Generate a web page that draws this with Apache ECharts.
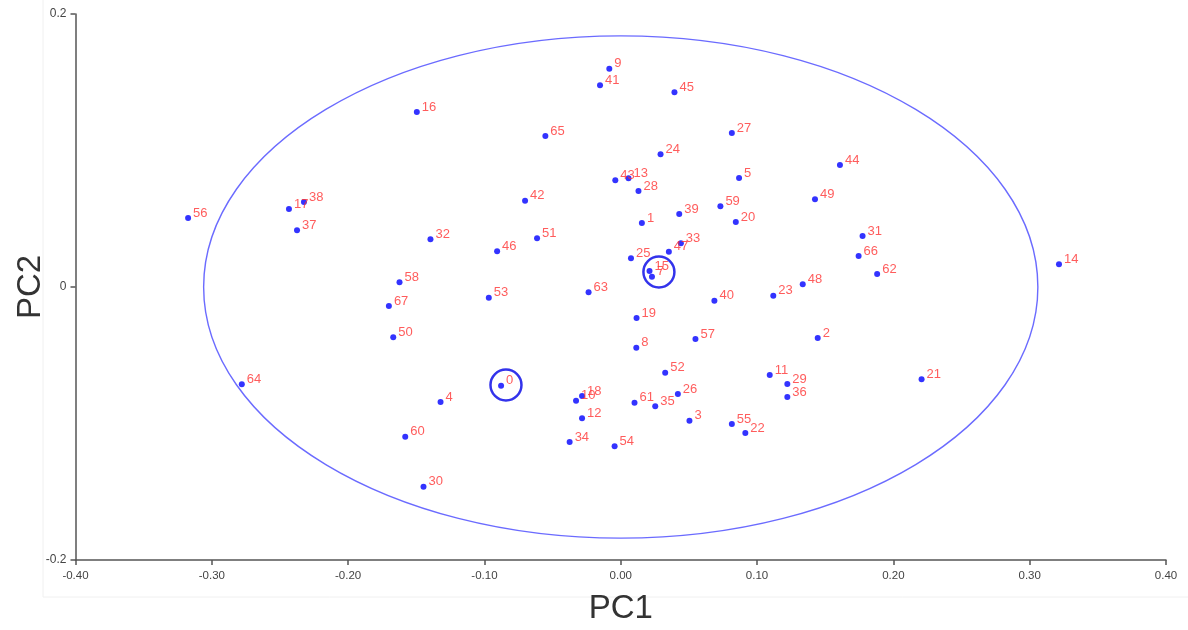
<!DOCTYPE html>
<html>
<head>
<meta charset="utf-8">
<script src="https://cdn.jsdelivr.net/npm/echarts@6/dist/echarts.min.js"></script>
<style>
html,body{margin:0;padding:0;background:#fff;}
#chart{width:1188px;height:630px;}
</style>
</head>
<body>
<div id="chart"></div>
<script>
// Sample labels, PC1 and PC2 scores
const ids = [0,1,2,3,4,5,7,8,9,10,11,12,13,14,15,16,17,18,19,20,21,22,23,24,25,26,27,28,29,30,31,32,33,34,35,36,37,38,39,40,41,42,43,44,45,46,47,48,49,50,51,52,53,54,55,56,57,58,59,60,61,62,63,64,65,66,67];
const pc1 = [-0.0878,0.0155,0.1445,0.0504,-0.1322,0.0868,0.0229,0.0114,-0.0084,-0.0328,0.1093,-0.0284,0.0057,0.3215,0.0211,-0.1496,-0.2434,-0.0284,0.0116,0.0844,0.2207,0.0914,0.1119,0.0292,0.0075,0.0419,0.0815,0.0130,0.1222,-0.1447,0.1774,-0.1396,0.0441,-0.0375,0.0253,0.1222,-0.2375,-0.2324,0.0429,0.0687,-0.0152,-0.0702,-0.0040,0.1608,0.0394,-0.0907,0.0353,0.1335,0.1425,-0.1669,-0.0614,0.0326,-0.0968,-0.0045,0.0815,-0.3174,0.0548,-0.1623,0.0731,-0.1581,0.0101,0.1881,-0.0236,-0.2780,-0.0553,0.1745,-0.1701];
const pc2 = [-0.0723,0.0469,-0.0374,-0.0979,-0.0842,0.0799,0.0075,-0.0445,0.1599,-0.0833,-0.0645,-0.0962,0.0796,0.0166,0.0117,0.1282,0.0571,-0.0799,-0.0227,0.0476,-0.0676,-0.1070,-0.0064,0.0972,0.0210,-0.0784,0.1128,0.0703,-0.0711,-0.1463,0.0374,0.0349,0.0320,-0.1136,-0.0874,-0.0806,0.0415,0.0623,0.0535,-0.0100,0.1478,0.0632,0.0782,0.0894,0.1426,0.0262,0.0259,0.0020,0.0642,-0.0368,0.0357,-0.0628,-0.0078,-0.1167,-0.1004,0.0505,-0.0381,0.0034,0.0591,-0.1097,-0.0848,0.0095,-0.0039,-0.0713,0.1106,0.0227,-0.0139];

// Highlighted group centres (circled)
const centresX = [-0.0842, 0.0280];
const centresY = [-0.0718, 0.0110];

// Confidence ellipse: centre and semi-axes (PC1, PC2)
const ellipseCentre = [0, 0];
const ellipseRadii = [0.306, 0.184];

// Axis ticks
const xTicks = [-0.40,-0.30,-0.20,-0.10,0.00,0.10,0.20,0.30,0.40];
const yTicks = [-0.2, 0, 0.2];

const points = ids.map((id, i) => [pc1[i], pc2[i], id]);
const centres = centresX.map((x, i) => [x, centresY[i]]);

const chart = echarts.init(document.getElementById('chart'), null, {renderer: 'canvas'});

const axisLineStyle = {color: '#555', width: 1.5};
const FONT = 'Liberation Sans, Arial, sans-serif';

chart.setOption({
  animation: false,
  backgroundColor: '#fff',
  graphic: [{
    type: 'rect',
    shape: {x: 43, y: -2, width: 1150, height: 599},
    style: {fill: 'none', stroke: '#f0f0f0', lineWidth: 1},
    silent: true, z: -10
  }],
  grid: {left: 75.5, right: 22, top: 14, bottom: 70, containLabel: false, outerBoundsMode: 'none'},
  xAxis: {
    type: 'value',
    min: xTicks[0], max: xTicks[xTicks.length - 1], interval: 0.1,
    name: 'PC1', nameLocation: 'middle', nameGap: 32,
    nameTextStyle: {fontSize: 33, color: '#333', fontFamily: FONT},
    axisLine: {show: true, onZero: false, lineStyle: axisLineStyle},
    axisTick: {show: true, length: 5, lineStyle: axisLineStyle},
    axisLabel: {
      fontSize: 11.5, color: '#444', margin: 10, fontFamily: FONT,
      formatter: v => { const t = xTicks.find(k => Math.abs(k - v) < 1e-9); return (t === undefined ? v : t).toFixed(2); }
    },
    splitLine: {show: false}
  },
  yAxis: {
    type: 'value',
    min: yTicks[0], max: yTicks[yTicks.length - 1], interval: 0.2,
    name: 'PC2', nameLocation: 'middle', nameGap: 28, nameRotate: 90,
    nameMoveOverlap: false,
    nameTextStyle: {fontSize: 33, color: '#333', fontFamily: FONT},
    axisLine: {show: true, onZero: false, lineStyle: axisLineStyle},
    axisTick: {show: true, length: 5, lineStyle: axisLineStyle},
    axisLabel: {
      fontSize: 12, color: '#444', margin: 9, fontFamily: FONT,
      formatter: v => { const t = yTicks.find(k => Math.abs(k - v) < 1e-9); return String(t === undefined ? v : t); }
    },
    splitLine: {show: false}
  },
  series: [
    {
      type: 'custom',
      silent: true,
      data: [[ellipseCentre[0], ellipseCentre[1], ellipseRadii[0], ellipseRadii[1]]],
      renderItem: function (params, api) {
        const c = api.coord([api.value(0), api.value(1)]);
        const s = api.size([api.value(2), api.value(3)]);
        return {
          type: 'ellipse',
          shape: {cx: c[0], cy: c[1], rx: s[0], ry: s[1]},
          style: {fill: 'none', stroke: '#6b6bff', lineWidth: 1.4}
        };
      },
      z: 1
    },
    {
      type: 'scatter',
      data: points,
      symbol: 'circle',
      symbolSize: 6,
      itemStyle: {color: '#0000ff'},
      label: {
        show: true,
        position: [8, -2],
        align: 'left',
        verticalAlign: 'middle',
        formatter: p => String(p.value[2]),
        color: '#ff3333',
        fontSize: 13,
        fontFamily: FONT
      },
      z: 3
    },
    {
      type: 'scatter',
      data: centres,
      symbol: 'circle',
      symbolSize: 31,
      itemStyle: {color: 'rgba(0,0,0,0)', borderColor: '#0000e6', borderWidth: 2.5},
      z: 2
    }
  ]
});
</script>
</body>
</html>
